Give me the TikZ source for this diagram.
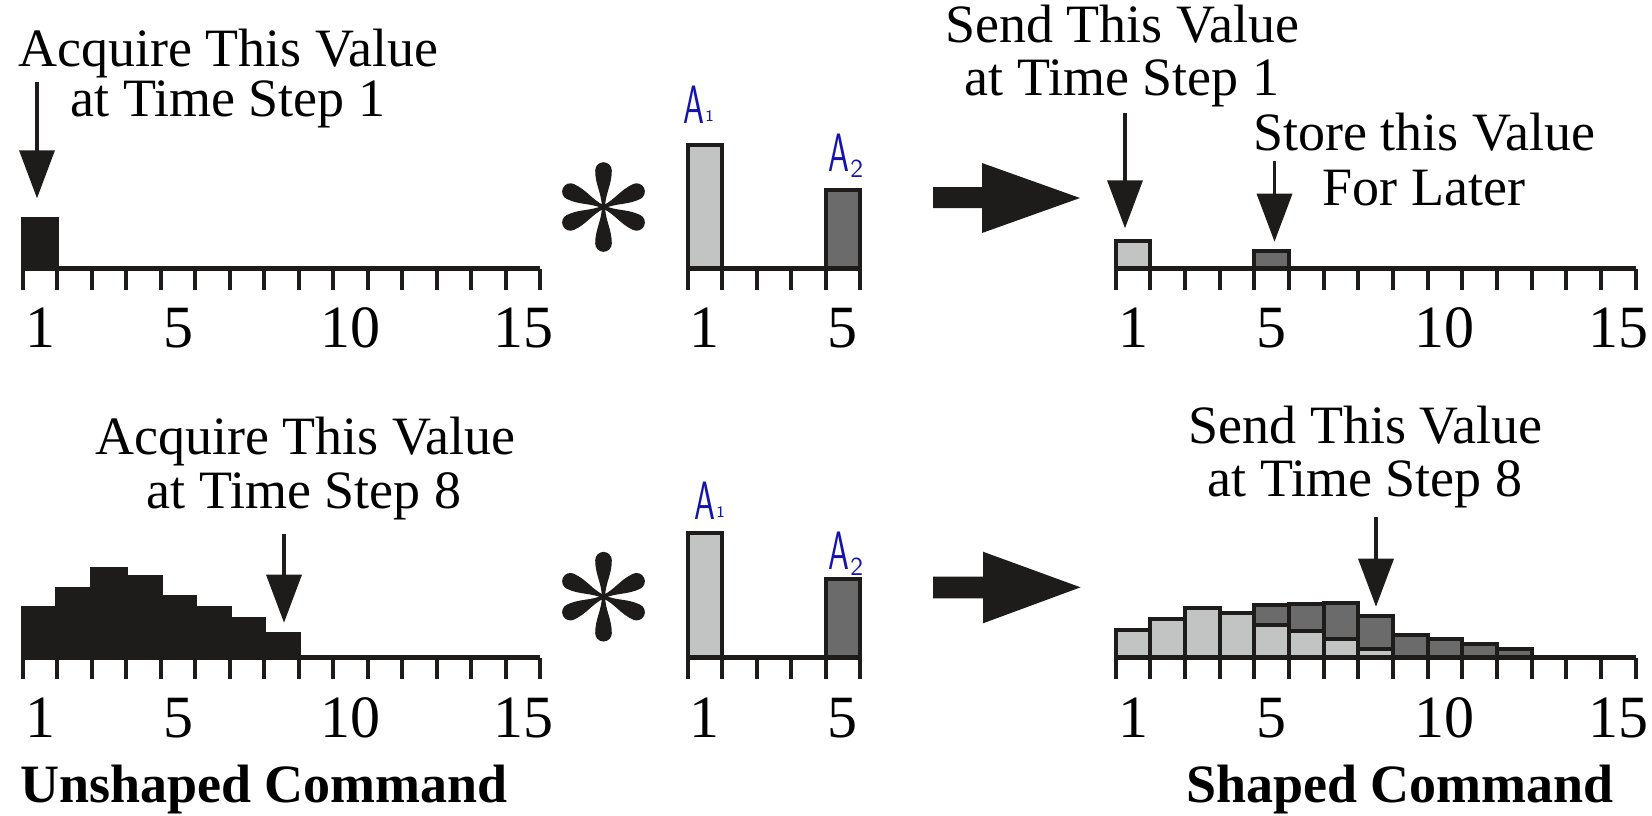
\documentclass[tikz,border=0pt]{standalone}
\usepackage{fontspec}
\setmainfont{Liberation Serif}
\usepackage{graphicx}
\usetikzlibrary{arrows.meta}
\definecolor{ink}{HTML}{1E1C1A}
\definecolor{lgray}{HTML}{C2C4C4}
\definecolor{dgray}{HTML}{6B6B6B}
\definecolor{pen}{RGB}{20,20,170}
\tikzset{
  axisline/.style={draw=ink, line width=2.2pt},
  tickline/.style={draw=ink, line width=2pt},
  barblack/.style={fill=ink, draw=ink, line width=2pt},
  barlight/.style={fill=lgray, draw=ink, line width=2pt},
  bardark/.style={fill=dgray, draw=ink, line width=2pt},
  lbl/.style={font=\fontsize{27pt}{27pt}\selectfont, inner sep=0pt, anchor=base},
  num/.style={font=\fontsize{30pt}{30pt}\selectfont, inner sep=0pt, anchor=base},
  ttl/.style={font=\fontsize{27pt}{27pt}\selectfont\bfseries, inner sep=0pt, anchor=base},
  pointer/.style={draw=ink, line width=1.75pt, -{Triangle[width=17.5pt,length=24pt]}},
  bigarrow/.style={fill=ink},
  coef/.style={text=pen, inner sep=0pt, anchor=base west, font=\sffamily},
}
\newcommand{\coefA}[1]{\scalebox{0.62}[1]{\fontsize{27pt}{27pt}\selectfont A}\kern0.5pt#1}
\begin{document}
\begin{tikzpicture}[x=0.5pt,y=-0.5pt]
\useasboundingbox (0,0) rectangle (1652,815);

% ---------- top row, left: unshaped impulse ----------
\draw[barblack] (22.8,268.5) rectangle (57.3,219.3);
\draw[axisline] (22.8,268.5) -- (540.3,268.5);
\foreach \k in {0,...,15} \draw[tickline] ({22.8+\k*34.5},268.5) -- ({22.8+\k*34.5},290);
\node[num] (tl1) at (40.05,347) {1};
\node[num] (tl5) at (178.05,347) {5};
\node[num] (tl10) at (350.55,347) {10};
\node[num] (tl15) at (523.05,347) {15};
\node[lbl] (tlt1) at (228,66) {Acquire This Value};
\node[lbl] (tlt2) at (228,116) {at Time Step 1};
\coordinate (p1s) at (37,81.7);
\coordinate (p1t) at (37,198.3);
\draw[pointer] (p1s) -- (p1t);

% ---------- bottom row, left: unshaped command ----------
\foreach \i/\t in {1/608.3,2/589,3/569.3,4/577.3,5/596.7,6/608.3,7/619,8/634}
  \draw[barblack] ({22.8+(\i-1)*34.5},657.5) rectangle ({22.8+\i*34.5},\t);
\draw[axisline] (22.8,657.5) -- (540.3,657.5);
\foreach \k in {0,...,15} \draw[tickline] ({22.8+\k*34.5},657.5) -- ({22.8+\k*34.5},679.3);
\node[num] (bl1) at (40.05,737) {1};
\node[num] (bl5) at (178.05,737) {5};
\node[num] (bl10) at (350.55,737) {10};
\node[num] (bl15) at (523.05,737) {15};
\node[lbl] (blt1) at (305,454) {Acquire This Value};
\node[lbl] (blt2) at (304,508) {at Time Step 8};
\coordinate (p4s) at (284,534);
\coordinate (p4t) at (284,622.7);
\draw[pointer] (p4s) -- (p4t);
\node[ttl] (unsh) at (264,802) {Unshaped Command};

% ---------- asterisks ----------
\foreach \cy/\nm in {207/asta,596.7/astb}{
  \begin{scope}[shift={(603.5,\cy)}]
    \foreach \a in {90,270,25,-25,155,205}
      \fill[ink, rotate=\a] (0,1.6) .. controls (14,1.9) and (22,8.3) .. (36.5,8.3)
        arc[start angle=90,end angle=-90,radius=8.3]
        .. controls (22,-8.3) and (14,-1.9) .. (0,-1.6) -- cycle;
    \fill[ink] (0,0) circle[radius=3.5];
  \end{scope}
}

% ---------- middle: shaper impulses ----------
\foreach \base/\ta/\tb/\tk/\ny in {268.5/144.5/189.5/290/347, 657.5/533.3/579.3/679.3/737}{
  \draw[barlight] (687.7,\base) rectangle (722.2,\ta);
  \draw[bardark] (825.7,\base) rectangle (860.2,\tb);
  \draw[axisline] (687.7,\base) -- (860.2,\base);
  \foreach \k in {0,...,5} \draw[tickline] ({687.7+\k*34.5},\base) -- ({687.7+\k*34.5},\tk);
}
\node[num] (tm1) at (704.95,347) {1};
\node[num] (tm5) at (842.95,347) {5};
\node[num] (bm1) at (704.95,737) {1};
\node[num] (bm5) at (842.95,737) {5};
\node[coef] (ta1) at (683,123) {\coefA{\raisebox{1pt}{\fontsize{8pt}{8pt}\selectfont 1}}};
\node[coef] (ta2) at (828,171) {\coefA{\raisebox{-3pt}{\fontsize{13pt}{13pt}\selectfont 2}}};
\node[coef] (ba1) at (694,519) {\coefA{\raisebox{1pt}{\fontsize{8pt}{8pt}\selectfont 1}}};
\node[coef] (ba2) at (828,569) {\coefA{\raisebox{-3pt}{\fontsize{13pt}{13pt}\selectfont 2}}};

% ---------- big arrows ----------
\fill[bigarrow] (933,187) -- (982,187) -- (982,163) -- (1080,198) -- (982,233) -- (982,208) -- (933,208) -- cycle;
\fill[bigarrow] (933,576.7) -- (983,576.7) -- (983,551.7) -- (1080.5,587.3) -- (983,623.3) -- (983,598.3) -- (933,598.3) -- cycle;

% ---------- top row, right: shaped impulse ----------
\draw[barlight] (1115.8,268.5) rectangle (1150.45,241);
\draw[bardark] ({1115.8+4*34.65},268.5) rectangle ({1115.8+5*34.65},250.7);
\draw[axisline] (1115.8,268.5) -- (1635.55,268.5);
\foreach \k in {0,...,15} \draw[tickline] ({1115.8+\k*34.65},268.5) -- ({1115.8+\k*34.65},290);
\node[num] (tr1) at (1133.1,347) {1};
\node[num] (tr5) at (1271.7,347) {5};
\node[num] (tr10) at (1444.95,347) {10};
\node[num] (tr15) at (1618.2,347) {15};
\node[lbl] (trt1) at (1122,42) {Send This Value};
\node[lbl] (trt2) at (1122,95) {at Time Step 1};
\node[lbl] (trs1) at (1424,150) {Store this Value};
\node[lbl] (trs2) at (1424,205) {For Later};
\coordinate (p2s) at (1125,113.3);
\coordinate (p2t) at (1125,228.3);
\draw[pointer] (p2s) -- (p2t);
\coordinate (p3s) at (1274.5,160.7);
\coordinate (p3t) at (1274.5,241.7);
\draw[pointer] (p3s) -- (p3t);

% ---------- bottom row, right: shaped command ----------
\foreach \i/\t in {1/630,2/619,3/607.7,4/612.7,5/625,6/631,7/639.3,8/648.7}
  \draw[barlight] ({1115.8+(\i-1)*34.65},657.5) rectangle ({1115.8+\i*34.65},\t);
\foreach \i/\b/\t in {5/625/605,6/631/604.3,7/639.3/602.7,8/648.7/615.7,9/657.5/635,10/657.5/639.3,11/657.5/644,12/657.5/649.3}
  \draw[bardark] ({1115.8+(\i-1)*34.65},\b) rectangle ({1115.8+\i*34.65},\t);
\draw[axisline] (1115.8,657.5) -- (1635.55,657.5);
\foreach \k in {0,...,15} \draw[tickline] ({1115.8+\k*34.65},657.5) -- ({1115.8+\k*34.65},679.3);
\node[num] (br1) at (1133.1,737) {1};
\node[num] (br5) at (1271.7,737) {5};
\node[num] (br10) at (1444.95,737) {10};
\node[num] (br15) at (1618.2,737) {15};
\node[lbl] (brt1) at (1365.5,443.3) {Send This Value};
\node[lbl] (brt2) at (1365,496.7) {at Time Step 8};
\coordinate (p5s) at (1376,516.7);
\coordinate (p5t) at (1376,606.7);
\draw[pointer] (p5s) -- (p5t);
\node[ttl] (shp) at (1400,802) {Shaped Command};
\end{tikzpicture}
\end{document}
